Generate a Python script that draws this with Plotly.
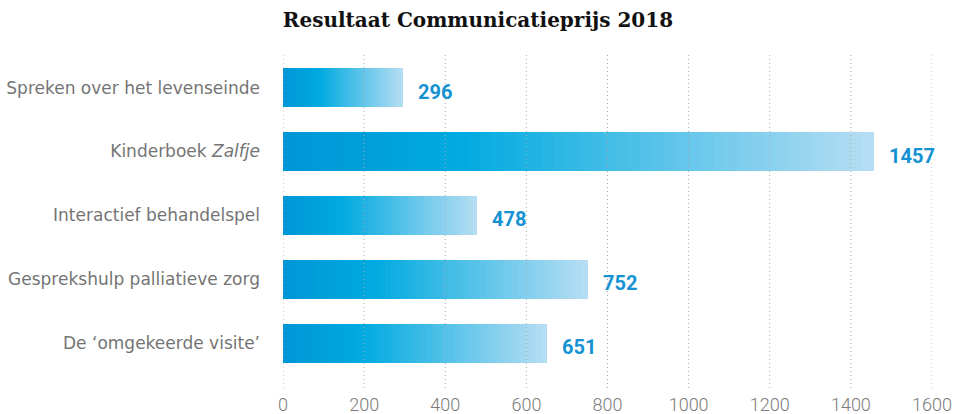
import plotly.graph_objects as go

# ---- data ----
categories = [
    "Spreken over het levenseinde",
    "Kinderboek <i>Zalfje</i>",
    "Interactief behandelspel",
    "Gesprekshulp palliatieve zorg",
    "De ‘omgekeerde visite’",
]
values = [296, 1457, 478, 752, 651]
tick_values = [0, 200, 400, 600, 800, 1000, 1200, 1400, 1600]
title_text = "Resultaat Communicatieprijs 2018"

# ---- gradient style ----
stops = [(0.0, (0, 150, 216)), (0.3, (0, 170, 224)), (1.0, (184, 222, 243))]


def grad_color(t):
    for (t0, c0), (t1, c1) in zip(stops[:-1], stops[1:]):
        if t <= t1:
            f = (t - t0) / (t1 - t0) if t1 > t0 else 0
            c = [round(a + (b - a) * f) for a, b in zip(c0, c1)]
            return "rgb({},{},{})".format(*c)
    return "rgb({},{},{})".format(*stops[-1][1])


N = 48
fig = go.Figure()
for i in range(N):
    t = (i + 0.5) / N
    fig.add_trace(go.Bar(
        y=categories,
        x=[v / N for v in values],
        orientation="h",
        width=0.61,
        marker=dict(color=grad_color(t), line=dict(width=0)),
        hoverinfo="skip",
        showlegend=False,
    ))

# value labels
for c, v in zip(categories, values):
    fig.add_annotation(
        x=v, y=c, xref="x", yref="y", text=str(v), showarrow=False,
        xanchor="left", yanchor="middle", xshift=13, yshift=-4,
        font=dict(family="Roboto", size=20, color="#1592d2", weight=700),
    )

# dotted gridlines above bars
for tv in tick_values:
    fig.add_shape(
        type="line", xref="x", yref="paper", x0=tv, x1=tv, y0=0, y1=1,
        line=dict(color="#a8a8a8", width=1, dash="1px,3px"), layer="above",
    )

fig.update_layout(
    width=954, height=414,
    margin=dict(l=283, r=22, t=55, b=26, autoexpand=False),
    paper_bgcolor="white", plot_bgcolor="white",
    barmode="stack",
    title=dict(
        text=title_text, x=0.501, xref="container", xanchor="center",
        y=0.952, yref="container", yanchor="middle",
        font=dict(family="DejaVu Serif", size=20, color="#111", weight=700),
    ),
    xaxis=dict(
        range=[0, 1600], tickvals=tick_values, ticktext=[str(t) for t in tick_values],
        showgrid=False, zeroline=False, showline=False, ticks="",
        automargin=False, ticklabelstandoff=4,
        tickfont=dict(family="Roboto", size=18, color="#7a7a7a", weight=300),
        fixedrange=True,
    ),
    yaxis=dict(
        categoryorder="array", categoryarray=categories,
        range=[4.7, -0.51], showgrid=False, zeroline=False, showline=False,
        ticks="", ticklabelstandoff=22, automargin=False,
        tickfont=dict(family="DejaVu Sans", size=17, color="#747474"),
        fixedrange=True,
    ),
)

fig.write_html(
    "out.html",
    config={"displayModeBar": False},
    post_script="document.body.style.margin='0';document.body.style.overflow='hidden';",
)
